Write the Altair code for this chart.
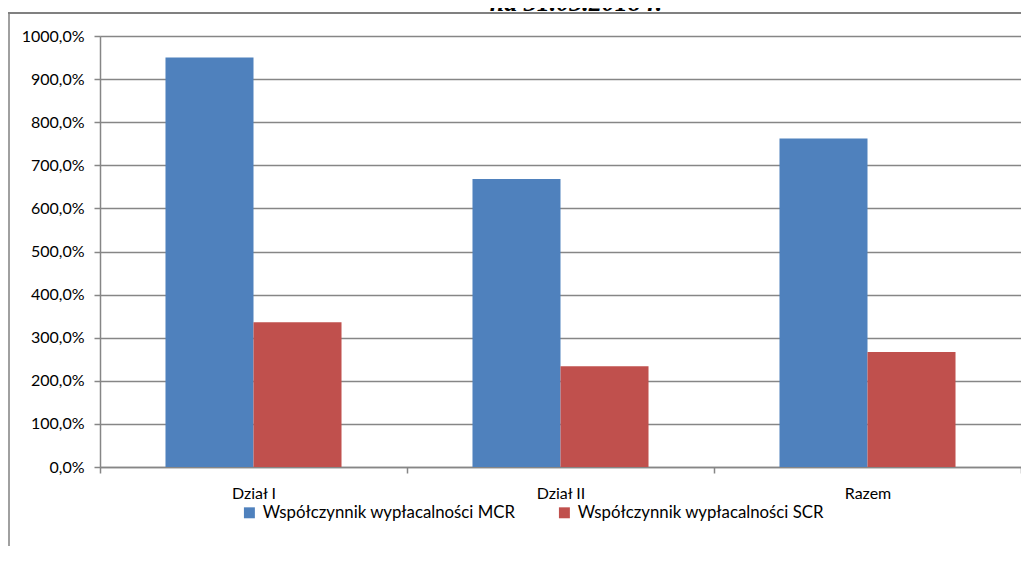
import altair as alt
import pandas as pd

# ---- data ----
categories = ["Dział I", "Dział II", "Razem"]
series = ["Współczynnik wypłacalności MCR", "Współczynnik wypłacalności SCR"]
mcr_values = [950.0, 668.0, 762.0]
scr_values = [336.0, 234.0, 267.0]
y_tick_values = [0, 100, 200, 300, 400, 500, 600, 700, 800, 900, 1000]
title_text = ["na 31.03.2018 r."]
colors = ["#4F81BD", "#C0504D"]

rows = []
for c, m, s in zip(categories, mcr_values, scr_values):
    rows.append({"kategoria": c, "seria": series[0], "wartosc": m})
    rows.append({"kategoria": c, "seria": series[1], "wartosc": s})
df = pd.DataFrame(rows)

W, H = 921, 431
FONT = "Lato"
GRID = "#868686"

bars = alt.Chart(df).mark_bar().encode(
    x=alt.X(
        "kategoria:N",
        sort=categories,
        scale=alt.Scale(paddingInner=0, paddingOuter=0),
        axis=alt.Axis(
            title=None, labelAngle=0, tickBand="extent", grid=False,
            domainColor=GRID, domainWidth=1.5, tickColor=GRID, tickWidth=1.5,
            tickSize=6, labelFont=FONT, labelFontSize=16, labelColor="black",
            labelPadding=12,
        ),
    ),
    xOffset=alt.XOffset(
        "seria:N", sort=series, scale=alt.Scale(paddingInner=0, paddingOuter=0.744)
    ),
    y=alt.Y(
        "wartosc:Q",
        scale=alt.Scale(domain=[0, 1000], nice=False),
        axis=alt.Axis(
            title=None, values=y_tick_values,
            labelExpr="replace(format(datum.value, '.1f'), '.', ',') + '%'",
            grid=True, gridColor=GRID, gridWidth=1.5,
            domainColor=GRID, domainWidth=1.5, tickColor=GRID, tickWidth=1.5,
            tickSize=6, labelFont=FONT, labelFontSize=16, labelColor="black",
            labelPadding=10,
        ),
    ),
    color=alt.Color(
        "seria:N",
        sort=series,
        scale=alt.Scale(domain=series, range=colors),
        legend=alt.Legend(
            title=None, orient="none", direction="horizontal",
            legendX=141, legendY=468, symbolType="square", symbolSize=120,
            symbolStrokeWidth=0, labelFont=FONT, labelFontSize=16.8,
            labelColor="black", columnPadding=40, padding=0, labelOffset=5,
            labelLimit=0,
        ),
    ),
)

one = pd.DataFrame({"k": [0]})
frame_left = alt.Chart(one).mark_rule(color="#808080", strokeWidth=1.5).encode(
    x=alt.value(-91), y=alt.value(-23), y2=alt.value(H + 90)
)
frame_top = alt.Chart(one).mark_rule(color="#808080", strokeWidth=2).encode(
    x=alt.value(-92), x2=alt.value(W), y=alt.value(-23)
)
title_layer = alt.Chart(pd.DataFrame({"t": title_text})).mark_text(
    font="Liberation Serif", fontSize=26, fontWeight="bold", fontStyle="italic",
    color="black", align="center", baseline="alphabetic",
).encode(text="t:N", x=alt.value(476), y=alt.value(-25))

chart = alt.layer(frame_left, frame_top, bars, title_layer).properties(
    width=W,
    height=H,
    autosize=alt.AutoSizeParams(type="none"),
    padding={"left": 92, "top": 28, "right": 0, "bottom": 79},
).configure_view(strokeWidth=0).configure(background="white")

chart.save("out.html", embed_options={"renderer": "svg", "actions": False})
